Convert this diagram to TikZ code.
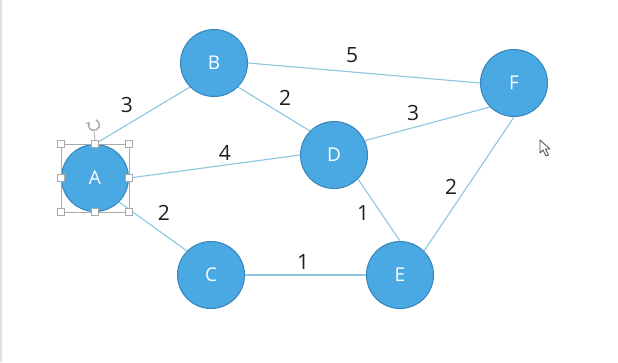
\documentclass[tikz,border=0pt]{standalone}
\usepackage{fontspec}
\setmainfont{Open Sans}
\usetikzlibrary{arrows.meta}
\definecolor{nodefill}{RGB}{74,168,226}
\definecolor{nodeedge}{RGB}{55,132,186}
\definecolor{linkcol}{RGB}{140,198,224}
\definecolor{selgray}{RGB}{170,170,170}
\definecolor{labcol}{RGB}{30,30,30}
\tikzset{
  vtx/.style={circle, fill=nodefill, draw=nodeedge, line width=1pt, minimum size=67pt, inner sep=0pt, text=white, font=\fontsize{19}{19}\selectfont},
  link/.style={draw=linkcol, line width=1.1pt},
  wlab/.style={text=labcol, font=\fontsize{21}{21}\selectfont, inner sep=0pt},
  handle/.style={draw=selgray, fill=white, line width=0.8pt, minimum size=7pt, inner sep=0pt, rectangle},
}
\begin{document}
\begin{tikzpicture}[x=1pt,y=-1pt]
\useasboundingbox (0,0) rectangle (618,362);
\fill[white] (0,0) rectangle (618,362);
\draw[black!12, line width=2.5pt] (1.2,0) -- (1.2,362);

\node[vtx] (A) at (95,178) {A};
\node[vtx] (B) at (214,63) {B};
\node[vtx] (C) at (211,275) {C};
\node[vtx] (D) at (334,155) {D};
\node[vtx] (E) at (400,275) {E};
\node[vtx] (F) at (514,83) {F};

\path[link] (A.north) -- (B.south west);
\path[link] (A.east) -- (D.west);
\path[link] (A.south east) -- (C.north west);
\path[link] (B.south east) -- (D.north west);
\path[link] (B.east) -- (F.west);
\path[link] (D.25) -- (F.south west);
\path[link] (D.south east) -- (E.north);
\path[link] (E.north east) -- (F.south);
\path[link] (C.east) -- (E.west);

\node[wlab] (lAB) at (127,105) {3};
\node[wlab] (lBF) at (352,55) {5};
\node[wlab] (lBD) at (285,98) {2};
\node[wlab] (lDF) at (413,113) {3};
\node[wlab] (lAD) at (225,153) {4};
\node[wlab] (lAC) at (164,213) {2};
\node[wlab] (lDE) at (363,213) {1};
\node[wlab] (lEF) at (451,187) {2};
\node[wlab] (lCE) at (303,262) {1};

% selection frame around A
\draw[selgray, line width=0.8pt] (61,144) rectangle (129,212);
\node[handle] (h1) at (61,144) {};
\node[handle] (h2) at (95,144) {};
\node[handle] (h3) at (129,144) {};
\node[handle] (h4) at (61,178) {};
\node[handle] (h5) at (129,178) {};
\node[handle] (h6) at (61,212) {};
\node[handle] (h7) at (95,212) {};
\node[handle] (h8) at (129,212) {};
\coordinate (rot) at (94,125);
\draw[selgray, line width=0.8pt] (94,131.5) -- (h2.north);
\draw[selgray, line width=1.4pt, -{Stealth[length=3.5pt,width=5pt]}] ([shift={(-70:5.5)}]rot) arc[start angle=-70, end angle=215, radius=5.5];

% mouse pointer
\draw[fill=white, draw=black!70, line width=0.8pt, line join=round]
  (540,140) -- (540,153) -- (543,150) -- (546,156) -- (548.5,155) -- (545.5,149) -- (550,149) -- cycle;
\end{tikzpicture}
\end{document}
